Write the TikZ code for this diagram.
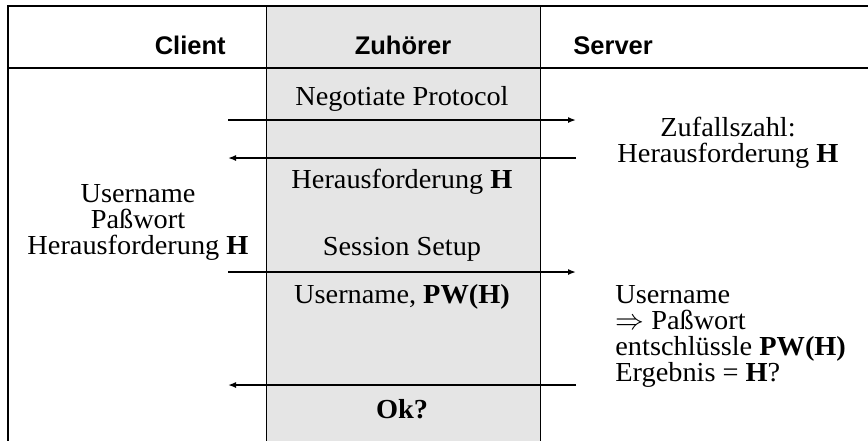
\documentclass[tikz,border=0pt]{standalone}
\usepackage{fontspec}
\setmainfont{Liberation Serif}[FakeStretch=1.03]
\setsansfont{Liberation Sans}
\usetikzlibrary{arrows.meta}

\begin{document}
\begin{tikzpicture}[x=0.5pt,y=-0.5pt,
 txt/.style={inner sep=0pt,font=\fontsize{13.75}{13}\selectfont},
 head/.style={inner sep=0pt,font=\fontsize{12.75}{15}\selectfont\sffamily\bfseries},
 msg/.style={-{Latex[length=4pt,width=3pt]},line width=0.75pt}]
 \useasboundingbox (0,0) rectangle (868,441);
 \fill[gray!20] (266,6) rectangle (540,441);
 \draw[line width=0.5pt] (266,6)--(266,441) (540,6)--(540,441);
 \draw[line width=1pt] (868,6)--(8,6)--(8,441) (8,67.5)--(868,67.5);
 \node[head,anchor=base east] (client) at (226,54) {Client};
 \node[head,anchor=base] (zuhoerer) at (403,54) {Zuhörer};
 \node[head,anchor=base west] (server) at (573,54) {Server};
 \node[txt,anchor=base] (negotiate) at (402,105) {Negotiate Protocol};
 \node[txt,anchor=base,align=center] (zufall) at (728,162) {Zufallszahl:\\Herausforderung \textbf{H}};
 \node[txt,anchor=base] (challenge) at (402,188) {Herausforderung \textbf{H}};
 \node[txt,anchor=base,align=center] (credentials) at (138,254) {Username\\Paßwort\\Herausforderung \textbf{H}};
 \node[txt,anchor=base] (session) at (402,255) {Session Setup};
 \node[txt,anchor=base] (response) at (402,303) {Username, \textbf{PW(H)}};
 \node[txt,anchor=base west,align=left] (check) at (615,381) {Username\\$\Rightarrow$ Paßwort\\entschlüssle \textbf{PW(H)}\\Ergebnis = \textbf{H}?};
 \node[txt,anchor=base] (ok) at (402,418) {\textbf{Ok?}};
 \coordinate (c1) at (228,120); \coordinate (s1) at (576,120);
 \coordinate (c2) at (228,158); \coordinate (s2) at (576,158);
 \coordinate (c3) at (228,272); \coordinate (s3) at (576,272);
 \coordinate (c4) at (228,385); \coordinate (s4) at (576,385);
 \draw[msg] (c1)--(s1);
 \draw[msg] (s2)--(c2);
 \draw[msg] (c3)--(s3);
 \draw[msg] (s4)--(c4);
\end{tikzpicture}
\end{document}
